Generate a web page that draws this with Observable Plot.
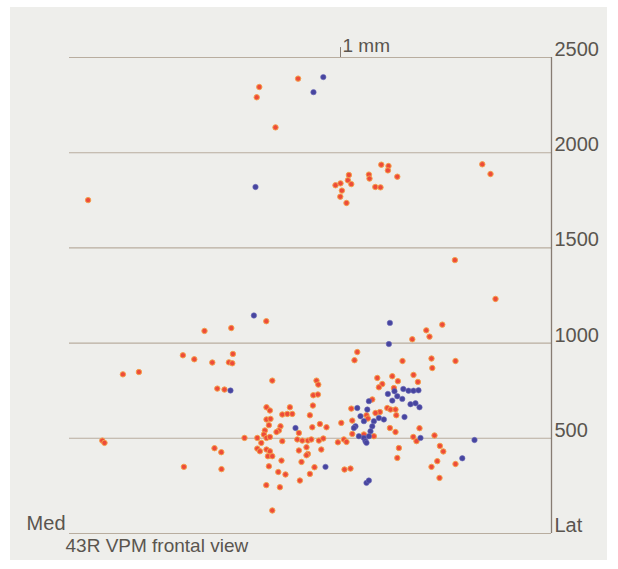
<!DOCTYPE html>
<html>
<head>
<meta charset="utf-8">
<script src="https://cdn.jsdelivr.net/npm/d3@7"></script>
<script src="https://cdn.jsdelivr.net/npm/@observablehq/plot@0.6"></script>
<style>
  html, body { margin: 0; padding: 0; background: #ffffff; }
  #wrap { position: relative; width: 618px; height: 569px; overflow: hidden; }
  #paper { position: absolute; left: 10px; top: 7px; width: 597px; height: 553px; background: #eeeeeb; }
  #chart { position: absolute; left: 0; top: 0; }
</style>
</head>
<body>
<div id="wrap"><div id="paper"></div><div id="chart"></div></div>
<script>
// Recorded units (x: medial -> lateral, µm; y: depth, µm)
const orangeUnits = [
  [1143,2389],[949,2345],[936,2291],[1030,2133],[2064,1939],[2105,1888],[93,1751],
  [1559,1937],[1595,1930],[1592,1907],[1497,1885],[1500,1864],[1639,1874],[1397,1883],[1392,1855],
  [1409,1835],[1330,1829],[1355,1839],[1362,1801],[1354,1769],[1385,1736],[1529,1820],[1555,1818],
  [1927,1436],[2130,1232],[1864,1097],[1784,1067],[1800,1034],[1714,1020],[1665,906],[1810,919],
  [1814,869],[1930,906],[1720,833],[1742,796],[1750,553],[1719,507],[1735,485],[1825,515],[1852,460],
  [1869,431],[1839,380],[1810,350],[1930,365],[1850,292],
  [1439,953],[1425,910],[1614,826],[1642,800],[1539,817],[1564,785],[1547,768],[1622,764],[1514,704],
  [1589,659],[1605,651],[1630,651],[1634,621],[1552,638],[1409,656],[1485,621],[1492,604],[1530,633],
  [1359,581],[1414,593],[1414,523],[1472,520],[1522,511],[1602,554],[1630,533],[1372,494],[1385,481],
  [1342,479],[1647,449],[1639,397],[1375,336],[1405,341],
  [675,1064],[809,1079],[567,936],[624,915],[714,898],[817,943],[797,899],[814,894],[267,836],[347,848],
  [739,761],[775,756],[164,488],[175,476],[725,448],[759,427],[572,350],[760,338],[984,1115],[1014,803],
  [1235,803],[1244,782],[1219,726],[1242,730],[1217,672],[1202,621],[1252,575],[1285,558],[1214,558],
  [985,663],[1002,646],[1102,663],[1064,625],[1089,628],[1114,628],[985,599],[1005,602],[997,569],
  [1055,563],[1047,541],[1035,533],[977,541],[972,520],[1147,528],[875,502],[939,502],[959,476],
  [985,502],[1002,507],[1064,485],[1139,494],[1164,488],[1192,488],[1209,494],[1247,488],[1269,499],
  [939,446],[952,432],[985,441],[1002,432],[992,406],[1014,406],[1147,436],[1185,453],[1192,418],
  [1259,441],[1060,383],[1160,376],[1185,411],[997,353],[1225,348],[1044,323],[1080,310],[1202,313],
  [1152,278],[984,254],[1052,243],[1014,121]
];
const blueUnits = [
  [1269,2397],[1220,2318],[930,1820],[922,1145],[805,751],[1602,1106],[1597,995],[1130,554],[1280,350],
  [2025,491],[1964,395],[1755,502],[1485,266],[1497,278],
  [1669,759],[1695,750],[1720,750],[1745,752],[1664,707],[1705,679],[1730,684],[1750,663],[1675,612],
  [1592,733],[1625,747],[1639,721],[1614,698],[1497,695],[1439,659],[1489,651],[1455,616],[1472,590],
  [1522,590],[1547,607],[1572,599],[1514,563],[1505,537],[1497,511],[1430,563],[1422,554],[1447,511],
  [1472,502],[1480,485],[1485,476]
];
const yTicks = [0, 500, 1000, 1500, 2000, 2500];
const yTickLabels = ["Lat", "500", "1000", "1500", "2000", "2500"];
const xExtent = [0, 2410];
const scaleBarX = 1355;
const scaleBarLabel = "1 mm";
const medLabel = "Med";
const caption = "43R VPM frontal view";

const ink = "#5a554f";
const chart = Plot.plot({
  width: 618,
  height: 569,
  marginLeft: 69,
  marginRight: 67,
  marginTop: 57,
  marginBottom: 36,
  style: {background: "transparent", color: ink, fontFamily: "'Liberation Sans', Arial, sans-serif", fontSize: "20px"},
  x: {domain: xExtent, axis: null},
  y: {domain: [0, 2500]},
  marks: [
    Plot.ruleY(yTicks, {stroke: "#b8ad9f", strokeWidth: 1.1}),
    Plot.ruleX([xExtent[1]], {y1: 0, y2: 2500, stroke: "#877c73", strokeWidth: 1.3}),
    Plot.axisY({anchor: "right", ticks: yTicks, tickSize: 0, tickPadding: 3, dy: -8, label: null,
      tickFormat: d => yTickLabels[yTicks.indexOf(d)]}),
    Plot.ruleX([scaleBarX], {y1: 2500, y2: 2552, stroke: "#877c73", strokeWidth: 1}),
    Plot.text([scaleBarLabel], {x: scaleBarX, y: 2500, text: d => d, textAnchor: "start", dx: 2, dy: -12, fontSize: 19}),
    Plot.text([medLabel], {x: 0, y: 0, text: d => d, textAnchor: "end", dx: -4, dy: -10}),
    Plot.text([caption], {x: 0, y: 0, text: d => d, textAnchor: "start", dx: -4, dy: 12, fontSize: 19}),
    Plot.dot(orangeUnits, {x: d => d[0], y: d => d[1], r: 2.7, fill: "#ee4b3a", stroke: "#f4a04c", strokeWidth: 1}),
    Plot.dot(blueUnits, {x: d => d[0], y: d => d[1], r: 2.7, fill: "#47459f", stroke: "#6c6ab8", strokeWidth: 0.6})
  ]
});
document.getElementById("chart").appendChild(chart);
</script>
</body>
</html>
